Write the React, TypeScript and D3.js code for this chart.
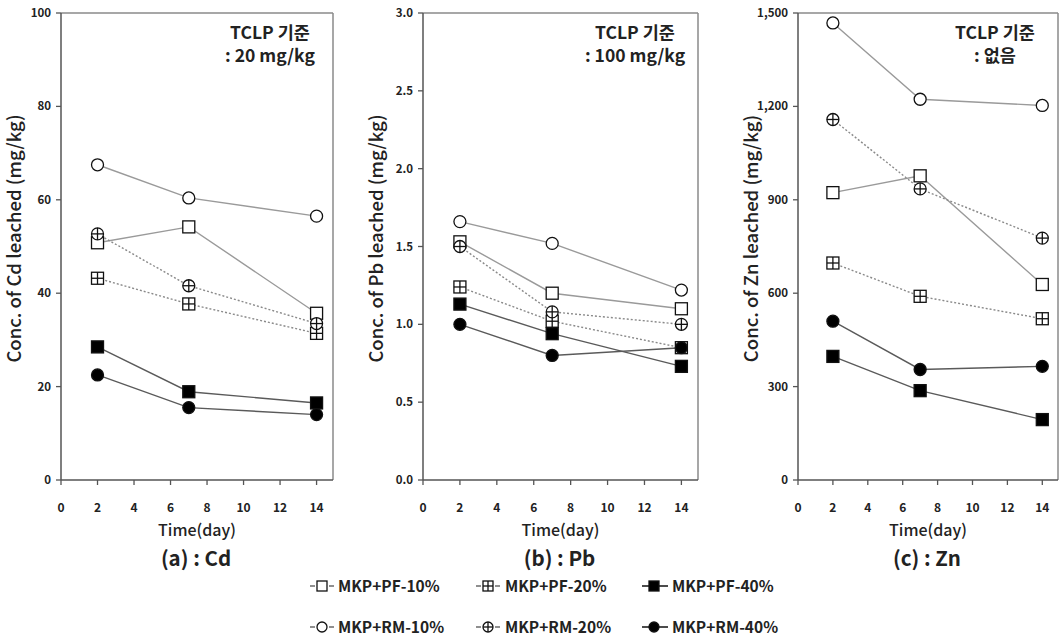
import React from "react";
import * as d3 from "d3";

const days = [2, 7, 14];
const seriesNames = ["MKP+PF-10%", "MKP+PF-20%", "MKP+PF-40%", "MKP+RM-10%", "MKP+RM-20%", "MKP+RM-40%"];

// values per series, same order as seriesNames, read at day 2, 7, 14
const cdValues = [
  [50.8, 54.2, 35.7],
  [43.2, 37.7, 31.4],
  [28.5, 18.9, 16.5],
  [67.5, 60.4, 56.5],
  [52.7, 41.6, 33.5],
  [22.5, 15.5, 14.0],
];
const pbValues = [
  [1.53, 1.2, 1.1],
  [1.24, 1.02, 0.85],
  [1.13, 0.94, 0.73],
  [1.66, 1.52, 1.22],
  [1.5, 1.08, 1.0],
  [1.0, 0.8, 0.85],
];
const znValues = [
  [923, 977, 628],
  [697, 590, 518],
  [397, 287, 194],
  [1468, 1223, 1203],
  [1158, 935, 777],
  [510, 355, 365],
];

const cdTicks = [0, 20, 40, 60, 80, 100];
const pbTicks = [0, 0.5, 1.0, 1.5, 2.0, 2.5, 3.0];
const znTicks = [0, 300, 600, 900, 1200, 1500];
const dayTicks = [0, 2, 4, 6, 8, 10, 12, 14];

const FONT = "'Noto Sans CJK KR', 'Noto Sans', sans-serif";

// marker/line style for each series
const styles = [
  { shape: "square", kind: "open", line: "#9a9a9a", dash: "" },
  { shape: "square", kind: "plus", line: "#8a8a8a", dash: "2,2" },
  { shape: "square", kind: "filled", line: "#5a5a5a", dash: "" },
  { shape: "circle", kind: "open", line: "#9a9a9a", dash: "" },
  { shape: "circle", kind: "plus", line: "#8a8a8a", dash: "2,2" },
  { shape: "circle", kind: "filled", line: "#5a5a5a", dash: "" },
];

function Marker({ x, y, i, r }: { x: number; y: number; i: number; r: number }) {
  const s = styles[i];
  const fill = s.kind === "filled" ? "#000" : "#fff";
  const sw = 1.3;
  return (
    <g>
      {s.shape === "square" ? (
        <rect x={x - r} y={y - r} width={2 * r} height={2 * r} fill={fill} stroke="#111" strokeWidth={sw} />
      ) : (
        <circle cx={x} cy={y} r={r} fill={fill} stroke="#111" strokeWidth={sw} />
      )}
      {s.kind === "plus" && (
        <g stroke="#111" strokeWidth={sw}>
          <line x1={x - r} x2={x + r} y1={y} y2={y} />
          <line x1={x} x2={x} y1={y - r} y2={y + r} />
        </g>
      )}
    </g>
  );
}

type PanelProps = {
  left: number;
  right: number;
  values: number[][];
  ticks: number[];
  fmt: (v: number) => string;
  metal: string;
  caption: string;
  limit: string;
};

function Panel({ left, right, values, ticks, fmt, metal, caption, limit }: PanelProps) {
  const top = 13;
  const bottom = 480;
  const x = d3.scaleLinear().domain([0, 14.9]).range([left, right]);
  const y = d3.scaleLinear().domain([ticks[0], ticks[ticks.length - 1]]).range([bottom, top]);
  const line = d3
    .line<number>()
    .x((_, j) => x(days[j]))
    .y((v) => y(v));
  const cx = (left + right) / 2;
  const annX = right - 63;
  return (
    <g fontFamily={FONT} fontWeight="bold" fill="#222">
      {/* frame */}
      <line x1={left} x2={right} y1={top} y2={top} stroke="#8a8a8a" strokeWidth={1.5} />
      <line x1={right} x2={right} y1={top} y2={bottom} stroke="#8a8a8a" strokeWidth={1.5} />
      <line x1={left} x2={left} y1={top} y2={bottom} stroke="#555" strokeWidth={1.5} />
      <line x1={left} x2={right} y1={bottom} y2={bottom} stroke="#555" strokeWidth={1.5} />
      {ticks.map((t) => (
        <g key={t}>
          <line x1={left - 5} x2={left} y1={y(t)} y2={y(t)} stroke="#555" strokeWidth={1.3} />
          <text x={left - 10} y={y(t) + 4} textAnchor="end" fontSize={11.5}>
            {fmt(t)}
          </text>
        </g>
      ))}
      {dayTicks.map((t) => (
        <g key={t}>
          <line x1={x(t)} x2={x(t)} y1={bottom} y2={bottom + 5} stroke="#555" strokeWidth={1.3} />
          <text x={x(t)} y={bottom + 32} textAnchor="middle" fontSize={12}>
            {t}
          </text>
        </g>
      ))}
      <text x={cx} y={bottom + 56} textAnchor="middle" fontSize={16} fontWeight={500}>
        Time(day)
      </text>
      <text x={cx - 1} y={bottom + 86} textAnchor="middle" fontSize={20.5}>
        {caption}
      </text>
      <text
        transform={`translate(${left - 40},${(top + bottom) / 2 - 8}) rotate(-90)`}
        textAnchor="middle"
        fontSize={18.5}
        fontWeight={500}
      >
        {`Conc. of ${metal} leached (mg/kg)`}
      </text>
      <text x={annX} y={39} textAnchor="middle" fontSize={17.5}>
        TCLP 기준
      </text>
      <text x={annX} y={62} textAnchor="middle" fontSize={17.5}>
        {limit}
      </text>
      {values.map((vals, i) => (
        <path
          key={"l" + i}
          d={line(vals) || ""}
          fill="none"
          stroke={styles[i].line}
          strokeWidth={1.4}
          strokeDasharray={styles[i].dash}
        />
      ))}
      {values.map((vals, i) =>
        vals.map((v, j) => <Marker key={`m${i}-${j}`} x={x(days[j])} y={y(v)} i={i} r={6} />)
      )}
    </g>
  );
}

function Legend() {
  const cols = [322, 488, 654];
  const rows = [586, 627];
  const textX = [338, 505, 672];
  return (
    <g fontFamily={FONT} fontWeight="bold" fontSize={15.5} fill="#222">
      {seriesNames.map((name, i) => {
        const col = i % 3;
        const row = Math.floor(i / 3);
        const cx = cols[col];
        const cy = rows[row];
        const s = styles[i];
        return (
          <g key={name}>
            {s.kind === "filled" ? (
              <line x1={cx - 12} x2={cx + 14} y1={cy} y2={cy} stroke="#111" strokeWidth={1.5} />
            ) : (
              <g stroke="#444" strokeWidth={1.2}>
                <line x1={cx - 12} x2={cx - 7} y1={cy} y2={cy} />
                <line x1={cx + 7} x2={cx + 12} y1={cy} y2={cy} />
              </g>
            )}
            <Marker x={cx} y={cy} i={i} r={5} />
            <text x={textX[col]} y={cy + 5.5}>
              {name}
            </text>
          </g>
        );
      })}
    </g>
  );
}

export default function App() {
  return (
    <svg width={1061} height={636} style={{ position: "absolute", left: 0, top: 0, background: "#fff" }}>
      <rect width={1061} height={636} fill="#fff" />
      <Panel
        left={61}
        right={333}
        values={cdValues}
        ticks={cdTicks}
        fmt={d3.format("d")}
        metal="Cd"
        caption="(a) : Cd"
        limit=": 20 mg/kg"
      />
      <Panel
        left={423}
        right={698}
        values={pbValues}
        ticks={pbTicks}
        fmt={d3.format(".1f")}
        metal="Pb"
        caption="(b) : Pb"
        limit=": 100 mg/kg"
      />
      <Panel
        left={798}
        right={1058}
        values={znValues}
        ticks={znTicks}
        fmt={d3.format(",")}
        metal="Zn"
        caption="(c) : Zn"
        limit=": 없음"
      />
      <Legend />
    </svg>
  );
}
